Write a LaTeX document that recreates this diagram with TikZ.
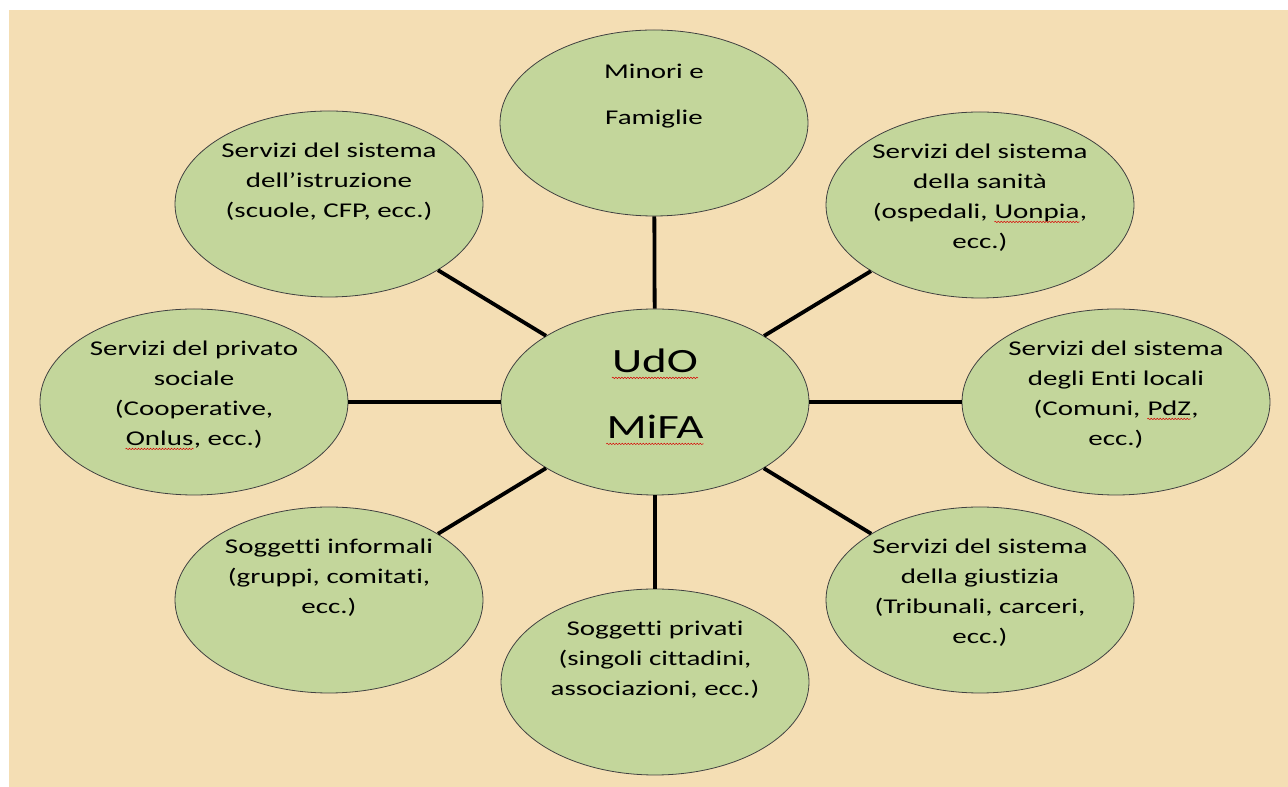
\documentclass[tikz,border=0pt]{standalone}
\usepackage{fontspec}
\newfontfamily\wordfont[FakeStretch=1.38,Ligatures={NoCommon}]{Carlito}
\usepackage{tikz}
\usetikzlibrary{shapes.geometric}
\usetikzlibrary{positioning}
\usetikzlibrary{decorations.pathmorphing}
\definecolor{wheatbg}{HTML}{F4DEB4}
\definecolor{olivebub}{HTML}{C3D69B}
\newcommand{\wavy}[1]{\tikz[baseline=(w.base)]{\node[inner sep=0pt](w){#1};\draw[red!85!black,line width=0.5pt,decorate,decoration={snake,amplitude=0.7pt,segment length=3pt}]([yshift=-0.15em]w.base west)--([yshift=-0.15em]w.base east);}}
\begin{document}
\begin{tikzpicture}[x=1pt,y=1pt,
  bubble/.style={ellipse,draw=black!75,line width=0.8pt,fill=olivebub,minimum width=308pt,minimum height=186pt,inner sep=0pt},
  bubtext/.style={align=center,anchor=north,inner sep=0pt,font=\wordfont\fontsize{21}{30}\selectfont},
  link/.style={line width=3.8pt,black}]
  \useasboundingbox (0,0) rectangle (1288,787);
  \fill[wheatbg] (9,0) rectangle (1288,777);
  \node[bubble] (udo) at (655,385) {};
  \node[bubble] (minori) at (654,664) {};
  \node[bubble] (istruz) at (329,583) {};
  \node[bubble] (sanita) at (980,582) {};
  \node[bubble] (privsoc) at (194,385) {};
  \node[bubble] (enti) at (1116,385) {};
  \node[bubble] (inform) at (329,187) {};
  \node[bubble] (privati) at (655,105) {};
  \node[bubble] (giust) at (980,187) {};
  \draw[link](udo)--(minori);
  \draw[link](udo)--(istruz);
  \draw[link](udo)--(sanita);
  \draw[link](udo)--(privsoc);
  \draw[link](udo)--(enti);
  \draw[link](udo)--(inform);
  \draw[link](udo)--(privati);
  \draw[link](udo)--(giust);
  % testi
  \node[bubtext,font=\wordfont\fontsize{34}{66}\selectfont] (udo-t) at ([yshift=53pt]udo.center) {\wavy{UdO}\\\wavy{MiFA}};
  \node[bubtext,font=\wordfont\fontsize{21}{46}\selectfont] (minori-t) at ([yshift=59pt]minori.center) {Minori e\\Famiglie};
  \node[bubtext] (istruz-t) at ([yshift=61pt]istruz.center) {Servizi del sistema\\dell’istruzione\\(scuole, CFP, ecc.)};
  \node[bubtext] (sanita-t) at ([yshift=61pt]sanita.center) {Servizi del sistema\\della sanità\\(ospedali, \wavy{Uonpia},\\ecc.)};
  \node[bubtext] (privsoc-t) at ([yshift=61pt]privsoc.center) {Servizi del privato\\sociale\\(Cooperative,\\\wavy{Onlus}, ecc.)};
  \node[bubtext] (enti-t) at ([yshift=61pt]enti.center) {Servizi del sistema\\degli Enti locali\\(Comuni, \wavy{PdZ},\\ecc.)};
  \node[bubtext] (inform-t) at ([yshift=61pt]inform.center) {Soggetti informali\\(gruppi, comitati,\\ecc.)};
  \node[bubtext] (privati-t) at ([yshift=61pt]privati.center) {Soggetti privati\\(singoli cittadini,\\associazioni, ecc.)};
  \node[bubtext] (giust-t) at ([yshift=61pt]giust.center) {Servizi del sistema\\della giustizia\\(Tribunali, carceri,\\ecc.)};
\end{tikzpicture}
\end{document}
